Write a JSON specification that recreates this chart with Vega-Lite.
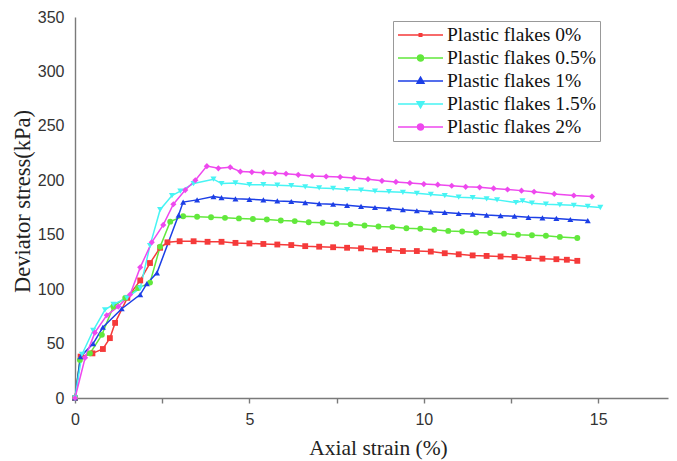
{
  "$schema": "https://vega.github.io/schema/vega-lite/v6.json",
  "width": 593,
  "height": 381,
  "autosize": {"type": "none"},
  "padding": {"left": 75, "top": 17, "right": 9, "bottom": 63},
  "background": "white",
  "config": {
    "view": {"stroke": null},
    "axis": {
      "domainColor": "#7a7a7a",
      "domainWidth": 1.4,
      "tickColor": "#7a7a7a",
      "tickWidth": 1.4,
      "grid": false,
      "labelFlush": false,
      "labelFont": "Liberation Sans",
      "labelFontSize": 16,
      "labelColor": "#333333",
      "titleFont": "Liberation Serif",
      "titleFontSize": 21.5,
      "titleFontWeight": "normal",
      "titleColor": "#222222"
    }
  },
  "data": {
    "values": [
      {"s": "Plastic flakes 0%", "x": 0, "y": 0},
      {"s": "Plastic flakes 0%", "x": 0.16, "y": 38},
      {"s": "Plastic flakes 0%", "x": 0.5, "y": 41},
      {"s": "Plastic flakes 0%", "x": 0.8, "y": 45},
      {"s": "Plastic flakes 0%", "x": 1.0, "y": 55},
      {"s": "Plastic flakes 0%", "x": 1.15, "y": 69},
      {"s": "Plastic flakes 0%", "x": 1.5, "y": 92},
      {"s": "Plastic flakes 0%", "x": 1.87, "y": 108},
      {"s": "Plastic flakes 0%", "x": 2.15, "y": 124},
      {"s": "Plastic flakes 0%", "x": 2.44, "y": 138},
      {"s": "Plastic flakes 0%", "x": 2.65, "y": 143},
      {"s": "Plastic flakes 0%", "x": 3.0, "y": 144},
      {"s": "Plastic flakes 0%", "x": 3.4, "y": 144},
      {"s": "Plastic flakes 0%", "x": 3.8, "y": 143.5},
      {"s": "Plastic flakes 0%", "x": 4.2, "y": 143.5},
      {"s": "Plastic flakes 0%", "x": 4.6, "y": 142.5},
      {"s": "Plastic flakes 0%", "x": 5.0, "y": 142},
      {"s": "Plastic flakes 0%", "x": 5.4, "y": 141.5},
      {"s": "Plastic flakes 0%", "x": 5.8, "y": 141},
      {"s": "Plastic flakes 0%", "x": 6.2, "y": 140.5},
      {"s": "Plastic flakes 0%", "x": 6.6, "y": 139.5},
      {"s": "Plastic flakes 0%", "x": 7.0, "y": 139},
      {"s": "Plastic flakes 0%", "x": 7.4, "y": 138.5},
      {"s": "Plastic flakes 0%", "x": 7.8, "y": 138},
      {"s": "Plastic flakes 0%", "x": 8.2, "y": 137.5},
      {"s": "Plastic flakes 0%", "x": 8.6, "y": 136.5},
      {"s": "Plastic flakes 0%", "x": 9.0, "y": 136},
      {"s": "Plastic flakes 0%", "x": 9.4, "y": 135},
      {"s": "Plastic flakes 0%", "x": 9.8, "y": 135},
      {"s": "Plastic flakes 0%", "x": 10.2, "y": 134.5},
      {"s": "Plastic flakes 0%", "x": 10.6, "y": 133},
      {"s": "Plastic flakes 0%", "x": 11.0, "y": 132},
      {"s": "Plastic flakes 0%", "x": 11.4, "y": 131},
      {"s": "Plastic flakes 0%", "x": 11.8, "y": 130.5},
      {"s": "Plastic flakes 0%", "x": 12.2, "y": 130},
      {"s": "Plastic flakes 0%", "x": 12.6, "y": 129.5},
      {"s": "Plastic flakes 0%", "x": 13.0, "y": 128.5},
      {"s": "Plastic flakes 0%", "x": 13.4, "y": 128},
      {"s": "Plastic flakes 0%", "x": 13.8, "y": 127.5},
      {"s": "Plastic flakes 0%", "x": 14.1, "y": 127},
      {"s": "Plastic flakes 0%", "x": 14.4, "y": 126},

      {"s": "Plastic flakes 0.5%", "x": 0, "y": 0},
      {"s": "Plastic flakes 0.5%", "x": 0.14, "y": 35},
      {"s": "Plastic flakes 0.5%", "x": 0.43, "y": 41},
      {"s": "Plastic flakes 0.5%", "x": 0.77, "y": 58},
      {"s": "Plastic flakes 0.5%", "x": 1.1, "y": 84},
      {"s": "Plastic flakes 0.5%", "x": 1.44, "y": 92},
      {"s": "Plastic flakes 0.5%", "x": 1.81, "y": 101},
      {"s": "Plastic flakes 0.5%", "x": 2.15, "y": 106},
      {"s": "Plastic flakes 0.5%", "x": 2.44, "y": 139},
      {"s": "Plastic flakes 0.5%", "x": 2.73, "y": 162},
      {"s": "Plastic flakes 0.5%", "x": 3.1, "y": 167},
      {"s": "Plastic flakes 0.5%", "x": 3.5, "y": 166.5},
      {"s": "Plastic flakes 0.5%", "x": 3.9, "y": 166},
      {"s": "Plastic flakes 0.5%", "x": 4.3, "y": 165.5},
      {"s": "Plastic flakes 0.5%", "x": 4.7, "y": 165},
      {"s": "Plastic flakes 0.5%", "x": 5.1, "y": 164.5},
      {"s": "Plastic flakes 0.5%", "x": 5.5, "y": 164},
      {"s": "Plastic flakes 0.5%", "x": 5.9, "y": 163},
      {"s": "Plastic flakes 0.5%", "x": 6.3, "y": 162.5},
      {"s": "Plastic flakes 0.5%", "x": 6.7, "y": 161.5},
      {"s": "Plastic flakes 0.5%", "x": 7.1, "y": 161},
      {"s": "Plastic flakes 0.5%", "x": 7.5, "y": 160},
      {"s": "Plastic flakes 0.5%", "x": 7.9, "y": 159.5},
      {"s": "Plastic flakes 0.5%", "x": 8.3, "y": 158.5},
      {"s": "Plastic flakes 0.5%", "x": 8.7, "y": 157.5},
      {"s": "Plastic flakes 0.5%", "x": 9.1, "y": 157},
      {"s": "Plastic flakes 0.5%", "x": 9.5, "y": 156},
      {"s": "Plastic flakes 0.5%", "x": 9.9, "y": 155.5},
      {"s": "Plastic flakes 0.5%", "x": 10.3, "y": 154.5},
      {"s": "Plastic flakes 0.5%", "x": 10.7, "y": 153.5},
      {"s": "Plastic flakes 0.5%", "x": 11.1, "y": 153},
      {"s": "Plastic flakes 0.5%", "x": 11.5, "y": 152},
      {"s": "Plastic flakes 0.5%", "x": 11.9, "y": 151.5},
      {"s": "Plastic flakes 0.5%", "x": 12.3, "y": 151},
      {"s": "Plastic flakes 0.5%", "x": 12.7, "y": 150},
      {"s": "Plastic flakes 0.5%", "x": 13.1, "y": 149.5},
      {"s": "Plastic flakes 0.5%", "x": 13.5, "y": 149},
      {"s": "Plastic flakes 0.5%", "x": 13.9, "y": 148},
      {"s": "Plastic flakes 0.5%", "x": 14.4, "y": 147},

      {"s": "Plastic flakes 1%", "x": 0, "y": 0},
      {"s": "Plastic flakes 1%", "x": 0.16, "y": 38},
      {"s": "Plastic flakes 1%", "x": 0.52, "y": 50},
      {"s": "Plastic flakes 1%", "x": 0.8, "y": 65},
      {"s": "Plastic flakes 1%", "x": 1.34, "y": 82},
      {"s": "Plastic flakes 1%", "x": 1.87, "y": 95},
      {"s": "Plastic flakes 1%", "x": 2.06, "y": 105},
      {"s": "Plastic flakes 1%", "x": 2.35, "y": 115},
      {"s": "Plastic flakes 1%", "x": 2.97, "y": 168},
      {"s": "Plastic flakes 1%", "x": 3.1, "y": 180},
      {"s": "Plastic flakes 1%", "x": 3.5, "y": 182},
      {"s": "Plastic flakes 1%", "x": 3.97, "y": 185},
      {"s": "Plastic flakes 1%", "x": 4.2, "y": 184},
      {"s": "Plastic flakes 1%", "x": 4.6, "y": 183},
      {"s": "Plastic flakes 1%", "x": 5.0, "y": 182.5},
      {"s": "Plastic flakes 1%", "x": 5.4, "y": 182},
      {"s": "Plastic flakes 1%", "x": 5.8, "y": 181},
      {"s": "Plastic flakes 1%", "x": 6.2, "y": 180.5},
      {"s": "Plastic flakes 1%", "x": 6.6, "y": 179.5},
      {"s": "Plastic flakes 1%", "x": 7.0, "y": 178.5},
      {"s": "Plastic flakes 1%", "x": 7.4, "y": 178},
      {"s": "Plastic flakes 1%", "x": 7.8, "y": 177},
      {"s": "Plastic flakes 1%", "x": 8.2, "y": 176},
      {"s": "Plastic flakes 1%", "x": 8.6, "y": 175},
      {"s": "Plastic flakes 1%", "x": 9.0, "y": 174},
      {"s": "Plastic flakes 1%", "x": 9.4, "y": 173},
      {"s": "Plastic flakes 1%", "x": 9.8, "y": 172},
      {"s": "Plastic flakes 1%", "x": 10.2, "y": 171},
      {"s": "Plastic flakes 1%", "x": 10.6, "y": 170.5},
      {"s": "Plastic flakes 1%", "x": 11.0, "y": 169.5},
      {"s": "Plastic flakes 1%", "x": 11.4, "y": 169},
      {"s": "Plastic flakes 1%", "x": 11.8, "y": 168},
      {"s": "Plastic flakes 1%", "x": 12.2, "y": 167.5},
      {"s": "Plastic flakes 1%", "x": 12.6, "y": 167},
      {"s": "Plastic flakes 1%", "x": 13.0, "y": 166},
      {"s": "Plastic flakes 1%", "x": 13.4, "y": 165.5},
      {"s": "Plastic flakes 1%", "x": 13.8, "y": 165},
      {"s": "Plastic flakes 1%", "x": 14.2, "y": 164},
      {"s": "Plastic flakes 1%", "x": 14.7, "y": 163},

      {"s": "Plastic flakes 1.5%", "x": 0, "y": 0},
      {"s": "Plastic flakes 1.5%", "x": 0.2, "y": 40},
      {"s": "Plastic flakes 1.5%", "x": 0.52, "y": 62},
      {"s": "Plastic flakes 1.5%", "x": 0.86, "y": 81},
      {"s": "Plastic flakes 1.5%", "x": 1.1, "y": 86},
      {"s": "Plastic flakes 1.5%", "x": 1.49, "y": 92},
      {"s": "Plastic flakes 1.5%", "x": 1.87, "y": 101},
      {"s": "Plastic flakes 1.5%", "x": 2.15, "y": 140},
      {"s": "Plastic flakes 1.5%", "x": 2.44, "y": 173},
      {"s": "Plastic flakes 1.5%", "x": 2.78, "y": 186},
      {"s": "Plastic flakes 1.5%", "x": 3.02, "y": 190},
      {"s": "Plastic flakes 1.5%", "x": 3.4, "y": 197},
      {"s": "Plastic flakes 1.5%", "x": 3.97, "y": 201},
      {"s": "Plastic flakes 1.5%", "x": 4.2, "y": 197},
      {"s": "Plastic flakes 1.5%", "x": 4.6, "y": 197.5},
      {"s": "Plastic flakes 1.5%", "x": 5.0, "y": 196},
      {"s": "Plastic flakes 1.5%", "x": 5.4, "y": 196},
      {"s": "Plastic flakes 1.5%", "x": 5.8, "y": 195.5},
      {"s": "Plastic flakes 1.5%", "x": 6.2, "y": 195},
      {"s": "Plastic flakes 1.5%", "x": 6.6, "y": 194},
      {"s": "Plastic flakes 1.5%", "x": 7.0, "y": 193},
      {"s": "Plastic flakes 1.5%", "x": 7.4, "y": 192.5},
      {"s": "Plastic flakes 1.5%", "x": 7.8, "y": 191.5},
      {"s": "Plastic flakes 1.5%", "x": 8.2, "y": 191},
      {"s": "Plastic flakes 1.5%", "x": 8.6, "y": 190},
      {"s": "Plastic flakes 1.5%", "x": 9.0, "y": 189.5},
      {"s": "Plastic flakes 1.5%", "x": 9.4, "y": 189},
      {"s": "Plastic flakes 1.5%", "x": 9.8, "y": 188},
      {"s": "Plastic flakes 1.5%", "x": 10.2, "y": 187},
      {"s": "Plastic flakes 1.5%", "x": 10.6, "y": 186},
      {"s": "Plastic flakes 1.5%", "x": 11.0, "y": 184.5},
      {"s": "Plastic flakes 1.5%", "x": 11.4, "y": 184},
      {"s": "Plastic flakes 1.5%", "x": 11.8, "y": 183},
      {"s": "Plastic flakes 1.5%", "x": 12.1, "y": 182},
      {"s": "Plastic flakes 1.5%", "x": 12.64, "y": 179.5},
      {"s": "Plastic flakes 1.5%", "x": 12.83, "y": 181},
      {"s": "Plastic flakes 1.5%", "x": 13.1, "y": 179},
      {"s": "Plastic flakes 1.5%", "x": 13.5, "y": 178},
      {"s": "Plastic flakes 1.5%", "x": 13.9, "y": 177.5},
      {"s": "Plastic flakes 1.5%", "x": 14.3, "y": 177},
      {"s": "Plastic flakes 1.5%", "x": 14.7, "y": 176},
      {"s": "Plastic flakes 1.5%", "x": 15.06, "y": 175},

      {"s": "Plastic flakes 2%", "x": 0, "y": 0},
      {"s": "Plastic flakes 2%", "x": 0.29, "y": 37},
      {"s": "Plastic flakes 2%", "x": 0.57, "y": 60},
      {"s": "Plastic flakes 2%", "x": 0.91, "y": 76},
      {"s": "Plastic flakes 2%", "x": 1.24, "y": 84},
      {"s": "Plastic flakes 2%", "x": 1.58, "y": 95},
      {"s": "Plastic flakes 2%", "x": 1.87, "y": 120},
      {"s": "Plastic flakes 2%", "x": 2.2, "y": 143},
      {"s": "Plastic flakes 2%", "x": 2.53, "y": 159},
      {"s": "Plastic flakes 2%", "x": 2.82, "y": 178},
      {"s": "Plastic flakes 2%", "x": 3.16, "y": 191},
      {"s": "Plastic flakes 2%", "x": 3.45, "y": 200},
      {"s": "Plastic flakes 2%", "x": 3.78, "y": 213},
      {"s": "Plastic flakes 2%", "x": 4.11, "y": 211},
      {"s": "Plastic flakes 2%", "x": 4.45, "y": 212},
      {"s": "Plastic flakes 2%", "x": 4.74, "y": 208},
      {"s": "Plastic flakes 2%", "x": 5.07, "y": 207.5},
      {"s": "Plastic flakes 2%", "x": 5.4, "y": 207},
      {"s": "Plastic flakes 2%", "x": 5.74, "y": 206.5},
      {"s": "Plastic flakes 2%", "x": 6.05, "y": 206},
      {"s": "Plastic flakes 2%", "x": 6.4, "y": 205},
      {"s": "Plastic flakes 2%", "x": 6.8, "y": 204},
      {"s": "Plastic flakes 2%", "x": 7.2, "y": 203.5},
      {"s": "Plastic flakes 2%", "x": 7.6, "y": 203},
      {"s": "Plastic flakes 2%", "x": 8.0, "y": 202},
      {"s": "Plastic flakes 2%", "x": 8.4, "y": 201},
      {"s": "Plastic flakes 2%", "x": 8.8, "y": 199.5},
      {"s": "Plastic flakes 2%", "x": 9.2, "y": 198.5},
      {"s": "Plastic flakes 2%", "x": 9.6, "y": 197.5},
      {"s": "Plastic flakes 2%", "x": 10.0, "y": 196.5},
      {"s": "Plastic flakes 2%", "x": 10.4, "y": 196},
      {"s": "Plastic flakes 2%", "x": 10.8, "y": 195},
      {"s": "Plastic flakes 2%", "x": 11.2, "y": 194},
      {"s": "Plastic flakes 2%", "x": 11.6, "y": 193.5},
      {"s": "Plastic flakes 2%", "x": 12.0, "y": 192.5},
      {"s": "Plastic flakes 2%", "x": 12.4, "y": 191.5},
      {"s": "Plastic flakes 2%", "x": 12.8, "y": 190.5},
      {"s": "Plastic flakes 2%", "x": 13.16, "y": 189.5},
      {"s": "Plastic flakes 2%", "x": 13.74, "y": 187.5},
      {"s": "Plastic flakes 2%", "x": 14.3, "y": 186},
      {"s": "Plastic flakes 2%", "x": 14.82, "y": 185}
    ]
  },
  "encoding": {
    "x": {
      "field": "x",
      "type": "quantitative",
      "scale": {"domain": [0, 17], "nice": false, "zero": false},
      "axis": {
        "title": "Axial strain (%)",
        "values": [0, 2.5, 5, 7.5, 10, 12.5, 15],
        "labelExpr": "datum.value % 5 === 0 ? datum.label : ''",
        "tickSize": 5,
        "labelPadding": 8,
        "titlePadding": 10,
        "titleX": 303,
        "encode": {"ticks": {"y2": {"value": {"expr": "datum.value % 5 === 0 ? 5 : 3"}}}}
      }
    },
    "y": {
      "field": "y",
      "type": "quantitative",
      "scale": {"domain": [0, 350], "nice": false},
      "axis": {
        "title": "Deviator stress(kPa)",
        "values": [0, 25, 50, 75, 100, 125, 150, 175, 200, 225, 250, 275, 300, 325, 350],
        "labelExpr": "datum.value % 50 === 0 ? datum.label : ''",
        "tickSize": 0,
        "labelPadding": 11,
        "titlePadding": 3,
        "titleFontSize": 22.5,
        "titleY": 184,
        "encode": {"ticks": {"x2": {"value": {"expr": "datum.value % 50 === 0 ? 7 : 4"}}}}
      }
    },
    "color": {
      "field": "s",
      "type": "nominal",
      "sort": ["Plastic flakes 0%", "Plastic flakes 0.5%", "Plastic flakes 1%", "Plastic flakes 1.5%", "Plastic flakes 2%"],
      "scale": {
        "domain": ["Plastic flakes 0%", "Plastic flakes 0.5%", "Plastic flakes 1%", "Plastic flakes 1.5%", "Plastic flakes 2%"],
        "range": ["#f53a3a", "#62e83c", "#1c3fe6", "#47f4f4", "#ee48ee"]
      },
      "legend": {
        "orient": "none",
        "legendX": 318,
        "legendY": 4,
        "title": null,
        "padding": 4,
        "strokeColor": "#999999",
        "fillColor": "white",
        "labelFont": "Liberation Serif",
        "labelFontSize": 19.5,
        "labelColor": "#111111",
        "labelOffset": 30,
        "rowPadding": 3,
        "symbolSize": 324,
        "symbolStrokeWidth": 1.5,
        "symbolOpacity": 1,
        "encode": {
          "symbols": {
            "update": {
              "shape": {"signal": "datum.value === 'Plastic flakes 0%' ? 'M-1,0L4,0M1.36,-0.14h0.28v0.28h-0.28z' : datum.value === 'Plastic flakes 1%' ? 'M-1,0L4,0M1.5,-0.42L1.88,0.25L1.12,0.25z' : datum.value === 'Plastic flakes 1.5%' ? 'M-1,0L4,0M1.5,0.42L1.88,-0.25L1.12,-0.25z' : 'M-1,0L4,0M1.17,0a0.33,0.33 0 1,0 0.66,0a0.33,0.33 0 1,0 -0.66,0z'"},
              "fill": {"scale": "color", "field": "value"},
              "stroke": {"scale": "color", "field": "value"},
              "opacity": {"value": 1}
            }
          }
        }
      }
    }
  },
  "layer": [
    {
      "mark": {"type": "line", "strokeWidth": 1.5, "interpolate": "linear"}
    },
    {
      "mark": {"type": "point", "filled": true, "opacity": 1},
      "encoding": {
        "shape": {
          "field": "s",
          "type": "nominal",
          "scale": {
            "domain": ["Plastic flakes 2%", "Plastic flakes 1.5%", "Plastic flakes 1%", "Plastic flakes 0.5%", "Plastic flakes 0%"],
            "range": ["diamond", "triangle-down", "triangle-up", "circle", "square"]
          },
          "legend": null
        },
        "size": {
          "field": "s",
          "type": "nominal",
          "scale": {
            "domain": ["Plastic flakes 2%", "Plastic flakes 1.5%", "Plastic flakes 1%", "Plastic flakes 0.5%", "Plastic flakes 0%"],
            "range": [38, 34, 34, 34, 9]
          },
          "legend": null
        }
      }
    }
  ]
}
